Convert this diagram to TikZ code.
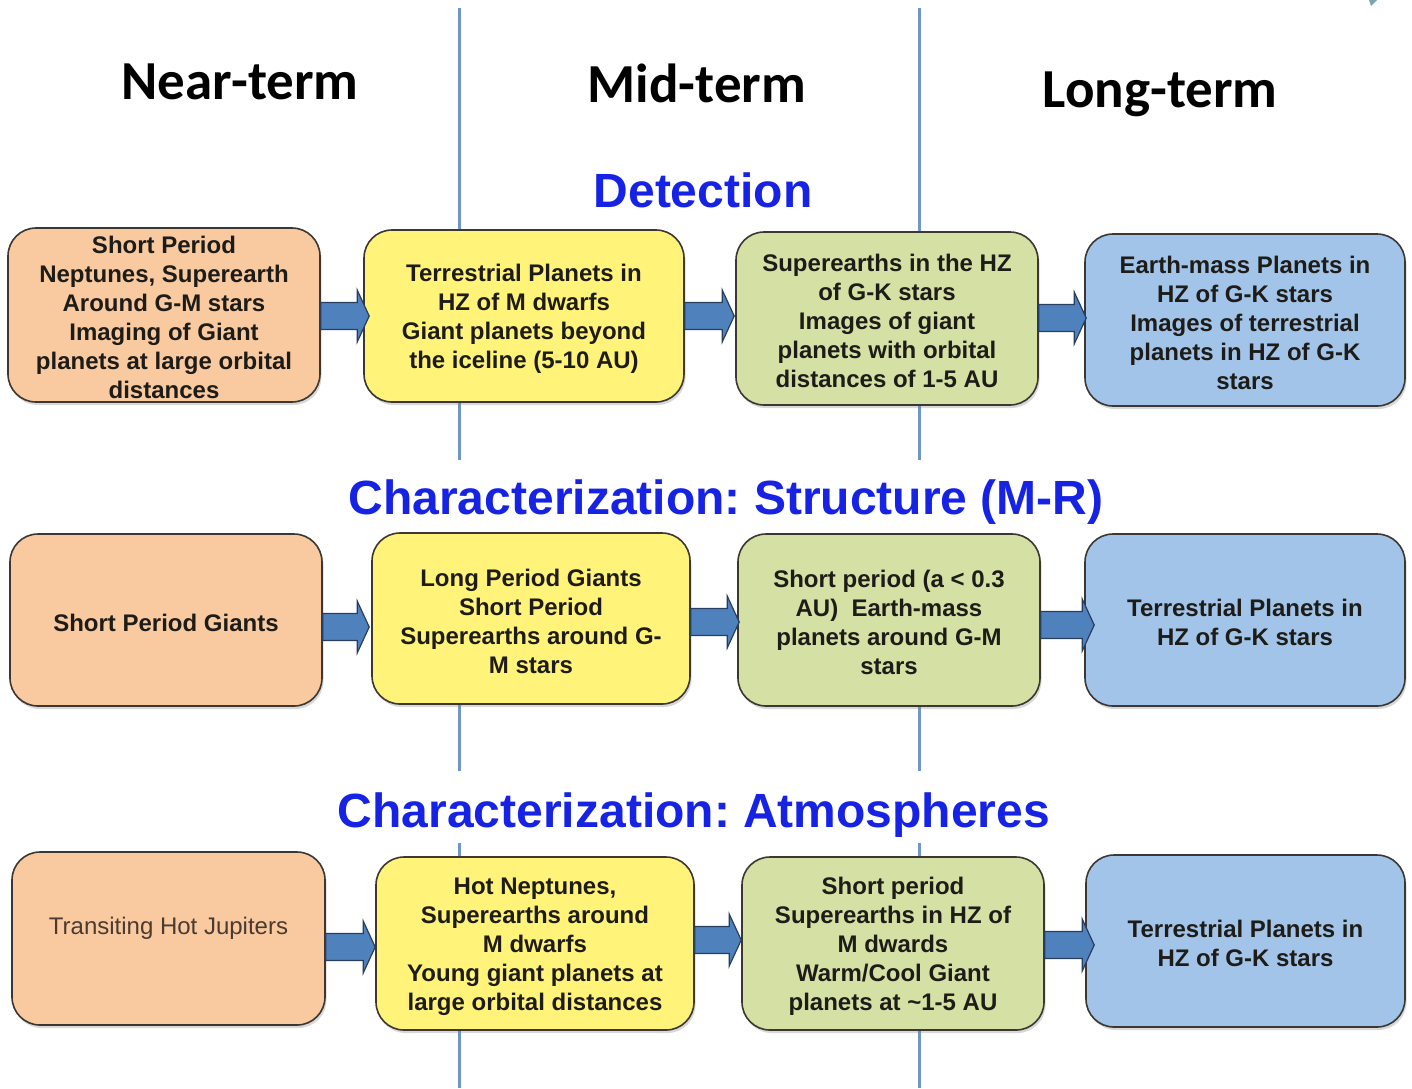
\documentclass[tikz,border=0pt]{standalone}
\usepackage{fontspec}
\setmainfont{Liberation Sans}
\newfontfamily\hdrfont{Carlito}
\usetikzlibrary{shadows,calc}
\definecolor{peach}{RGB}{249,202,160}
\definecolor{lemon}{RGB}{255,243,122}
\definecolor{sage}{RGB}{212,224,164}
\definecolor{sky}{RGB}{162,196,232}
\definecolor{arrowblue}{RGB}{79,129,189}
\definecolor{arrowedge}{RGB}{40,62,95}
\definecolor{boxedge}{RGB}{60,55,50}
\definecolor{divider}{RGB}{110,150,198}
\definecolor{headblue}{RGB}{22,34,228}
\definecolor{boxtext}{RGB}{30,28,24}
\definecolor{softtext}{RGB}{75,58,48}
\definecolor{cornermark}{RGB}{120,165,175}
\newcommand\boxstrut{\rule{0pt}{23pt}}
\frenchspacing
\begin{document}
\begin{tikzpicture}[x=1pt,y=-1pt,
  box/.style={draw=boxedge, line width=1.6pt, rounded corners=28pt, align=center,
    text=boxtext, font=\fontsize{24}{29}\selectfont\bfseries, inner sep=0pt,
    drop shadow={shadow xshift=1.5pt, shadow yshift=-3pt, opacity=0.3}},
  hdr/.style={font=\hdrfont\fontsize{55}{60}\selectfont\bfseries, text=black, anchor=base},
  sect/.style={font=\fontsize{48}{52}\selectfont\bfseries, text=headblue, anchor=base},
  divline/.style={draw=divider, line width=3pt},
  blockarrow/.style={draw=arrowedge, fill=arrowblue, line width=1.2pt,
    to path={let \p1=(\tikztostart), \p2=(\tikztotarget) in
      (\x1,\y1+13.5pt) -- (\x2-12pt,\y1+13.5pt) -- (\x2-12pt,\y1+26pt) -- (\x2,\y1)
      -- (\x2-12pt,\y1-26pt) -- (\x2-12pt,\y1-13.5pt) -- (\x1,\y1-13.5pt) -- cycle}}
]
\useasboundingbox (0,0) rectangle (1412,1088);
\fill[white] (0,0) rectangle (1412,1088);
\fill[cornermark] (1369,0) -- (1377,0) -- (1371,6) -- cycle;

% column dividers
\coordinate (d1a) at (459,8);   \coordinate (d1b) at (459,460);
\coordinate (d1c) at (459,540); \coordinate (d1d) at (459,771);
\coordinate (d1e) at (459,843); \coordinate (d1f) at (459,1088);
\coordinate (d2a) at (919,8);   \coordinate (d2b) at (919,460);
\coordinate (d2c) at (919,540); \coordinate (d2d) at (919,771);
\coordinate (d2e) at (919,843); \coordinate (d2f) at (919,1088);
\draw[divline] (d1a) -- (d1b) (d1c) -- (d1d) (d1e) -- (d1f);
\draw[divline] (d2a) -- (d2b) (d2c) -- (d2d) (d2e) -- (d2f);

% column headings
\node[hdr] (near) at (240,99.5) {Near-term};
\node[hdr] (mid) at (697,102) {Mid-term};
\node[hdr] (long) at (1160,107.5) {Long-term};

% section headings
\node[sect] (det) at (703,207) {Detection};
\node[sect] (struct) at (726,514.5) {Characterization: Structure (M-R)};
\node[sect] (atmo) at (694,827.5) {Characterization: Atmospheres};

% row 1
\node[box, fill=peach, minimum width=312pt, minimum height=174pt] (b11) at (164,315)
  {\boxstrut Short Period\\Neptunes, Superearth\\Around G-M stars\\Imaging of Giant\\planets at large orbital\\distances};
\node[box, fill=lemon, minimum width=320pt, minimum height=172pt] (b12) at (524,316)
  {\boxstrut Terrestrial Planets in\\HZ of M dwarfs\\Giant planets beyond\\the iceline (5-10 AU)};
\node[box, fill=sage, minimum width=302pt, minimum height=173pt] (b13) at (887,318.5)
  {\boxstrut Superearths in the HZ\\of G-K stars\\Images of giant\\planets with orbital\\distances of 1-5 AU};
\node[box, fill=sky, minimum width=320pt, minimum height=172pt] (b14) at (1245,320)
  {\boxstrut Earth-mass Planets in\\HZ of G-K stars\\Images of terrestrial\\planets in HZ of G-K\\stars};

% row 2
\node[box, fill=peach, minimum width=312pt, minimum height=172pt] (b21) at (166,620)
  {\boxstrut Short Period Giants};
\node[box, fill=lemon, minimum width=318pt, minimum height=171pt] (b22) at (531,618.5)
  {\boxstrut Long Period Giants\\Short Period\\Superearths around G-\\M stars};
\node[box, fill=sage, minimum width=302pt, minimum height=172pt] (b23) at (889,620)
  {\boxstrut Short period (a < 0.3\\AU)~ Earth-mass\\planets around G-M\\stars};
\node[box, fill=sky, minimum width=320pt, minimum height=172pt] (b24) at (1245,620)
  {\boxstrut Terrestrial Planets in\\HZ of G-K stars};

% row 3
\node[box, fill=peach, minimum width=313pt, minimum height=173pt, text=softtext,
  font=\fontsize{24}{29}\selectfont, text depth=32pt] (b31) at (168.5,938.5)
  {\boxstrut Transiting Hot Jupiters};
\node[box, fill=lemon, minimum width=318pt, minimum height=173pt] (b32) at (535,943.5)
  {\boxstrut Hot Neptunes,\\Superearths around\\M dwarfs\\Young giant planets at\\large orbital distances};
\node[box, fill=sage, minimum width=302pt, minimum height=173pt] (b33) at (893,943.5)
  {\boxstrut Short period\\Superearths in HZ of\\M dwards\\Warm/Cool Giant\\planets at \textasciitilde1-5 AU};
\node[box, fill=sky, minimum width=319pt, minimum height=172pt] (b34) at (1245.5,941)
  {\boxstrut Terrestrial Planets in\\HZ of G-K stars};

% arrows
\draw[blockarrow] ([yshift=-1pt]b11.east) to ([xshift=6pt]b12.west);
\draw[blockarrow] (b12.east) to ([xshift=-1pt]b13.west);
\draw[blockarrow] ([yshift=0.5pt]b13.east) to ([xshift=2pt]b14.west);
\draw[blockarrow] ([yshift=-7pt]b21.east) to ([xshift=-2pt]b22.west);
\draw[blockarrow] ([yshift=-3.5pt]b22.east) to ([xshift=2pt]b23.west);
\draw[blockarrow] ([yshift=-5pt]b23.east) to ([xshift=10pt]b24.west);
\draw[blockarrow] ([yshift=-8.5pt]b31.east) to (b32.west);
\draw[blockarrow] ([yshift=3.5pt]b32.east) to (b33.west);
\draw[blockarrow] ([yshift=-1.5pt]b33.east) to ([xshift=9pt]b34.west);
\end{tikzpicture}
\end{document}
